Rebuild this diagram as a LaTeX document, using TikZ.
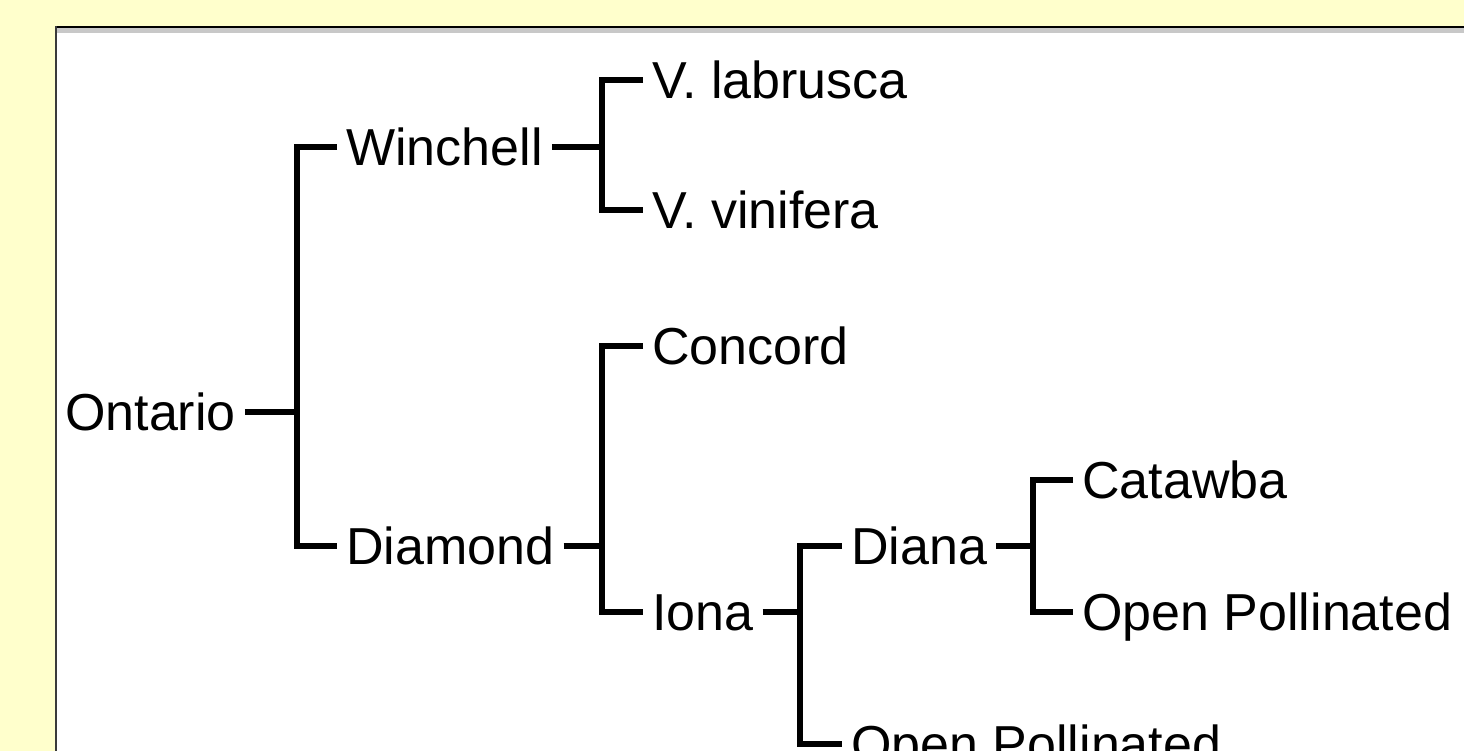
\documentclass[tikz,border=0pt]{standalone}
\usepackage{fontspec}
\setmainfont{Liberation Sans}
\definecolor{pagebg}{HTML}{FFFFCC}
\definecolor{bandgray}{HTML}{C8C8C8}
\definecolor{edgedark}{HTML}{3A3A3A}
\tikzset{
  link/.style={line width=6pt, line join=miter, line cap=butt, black},
  lbl/.style={anchor=west, inner xsep=9pt, inner ysep=0pt,
              text height=37.2pt, text depth=0pt,
              font=\fontsize{52pt}{60pt}\selectfont}
}
\begin{document}
\begin{tikzpicture}[x=1pt, y=-1pt]
  \useasboundingbox (0,0) rectangle (1464,751);
  \clip (0,0) rectangle (1464,751);

  % window frame on the yellow page
  \fill[pagebg] (0,0) rectangle (1464,751);
  \fill[white] (55,26) rectangle (1464,751);
  \fill[bandgray] (57,28) rectangle (1464,33);
  \fill[black] (55,26) rectangle (1464,28);
  \fill[edgedark] (55,26) rectangle (57,751);

  % labels of the pedigree
  \node[lbl] (ont)  at (56,412)   {Ontario};
  \node[lbl] (win)  at (337,147)  {Winchell};
  \node[lbl] (dia)  at (337,546)  {Diamond};
  \node[lbl] (vlab) at (643,80)   {V. labrusca};
  \node[lbl] (vvin) at (643,210)  {V. vinifera};
  \node[lbl] (con)  at (643,346)  {Concord};
  \node[lbl] (iona) at (643,612)  {Iona};
  \node[lbl] (dna)  at (842,546)  {Diana};
  \node[lbl] (opl)  at (842,744)  {Open Pollinated};
  \node[lbl] (cat)  at (1073,480) {Catawba};
  \node[lbl] (opu)  at (1073,612) {Open Pollinated};

  % junction points of the brackets
  \coordinate (j1) at (297,412);
  \coordinate (j2) at (602,147);
  \coordinate (j3) at (602,546);
  \coordinate (j4) at (800,612);
  \coordinate (j5) at (1033,546);

  % brackets
  \draw[link] (ont.east) -- (j1);
  \draw[link] (win.west) -| (j1) |- (dia.west);

  \draw[link] (win.east) -- (j2);
  \draw[link] (vlab.west) -| (j2) |- (vvin.west);

  \draw[link] (dia.east) -- (j3);
  \draw[link] (con.west) -| (j3) |- (iona.west);

  \draw[link] (iona.east) -- (j4);
  \draw[link] (dna.west) -| (j4) |- (opl.west);

  \draw[link] (dna.east) -- (j5);
  \draw[link] (cat.west) -| (j5) |- (opu.west);
\end{tikzpicture}
\end{document}
